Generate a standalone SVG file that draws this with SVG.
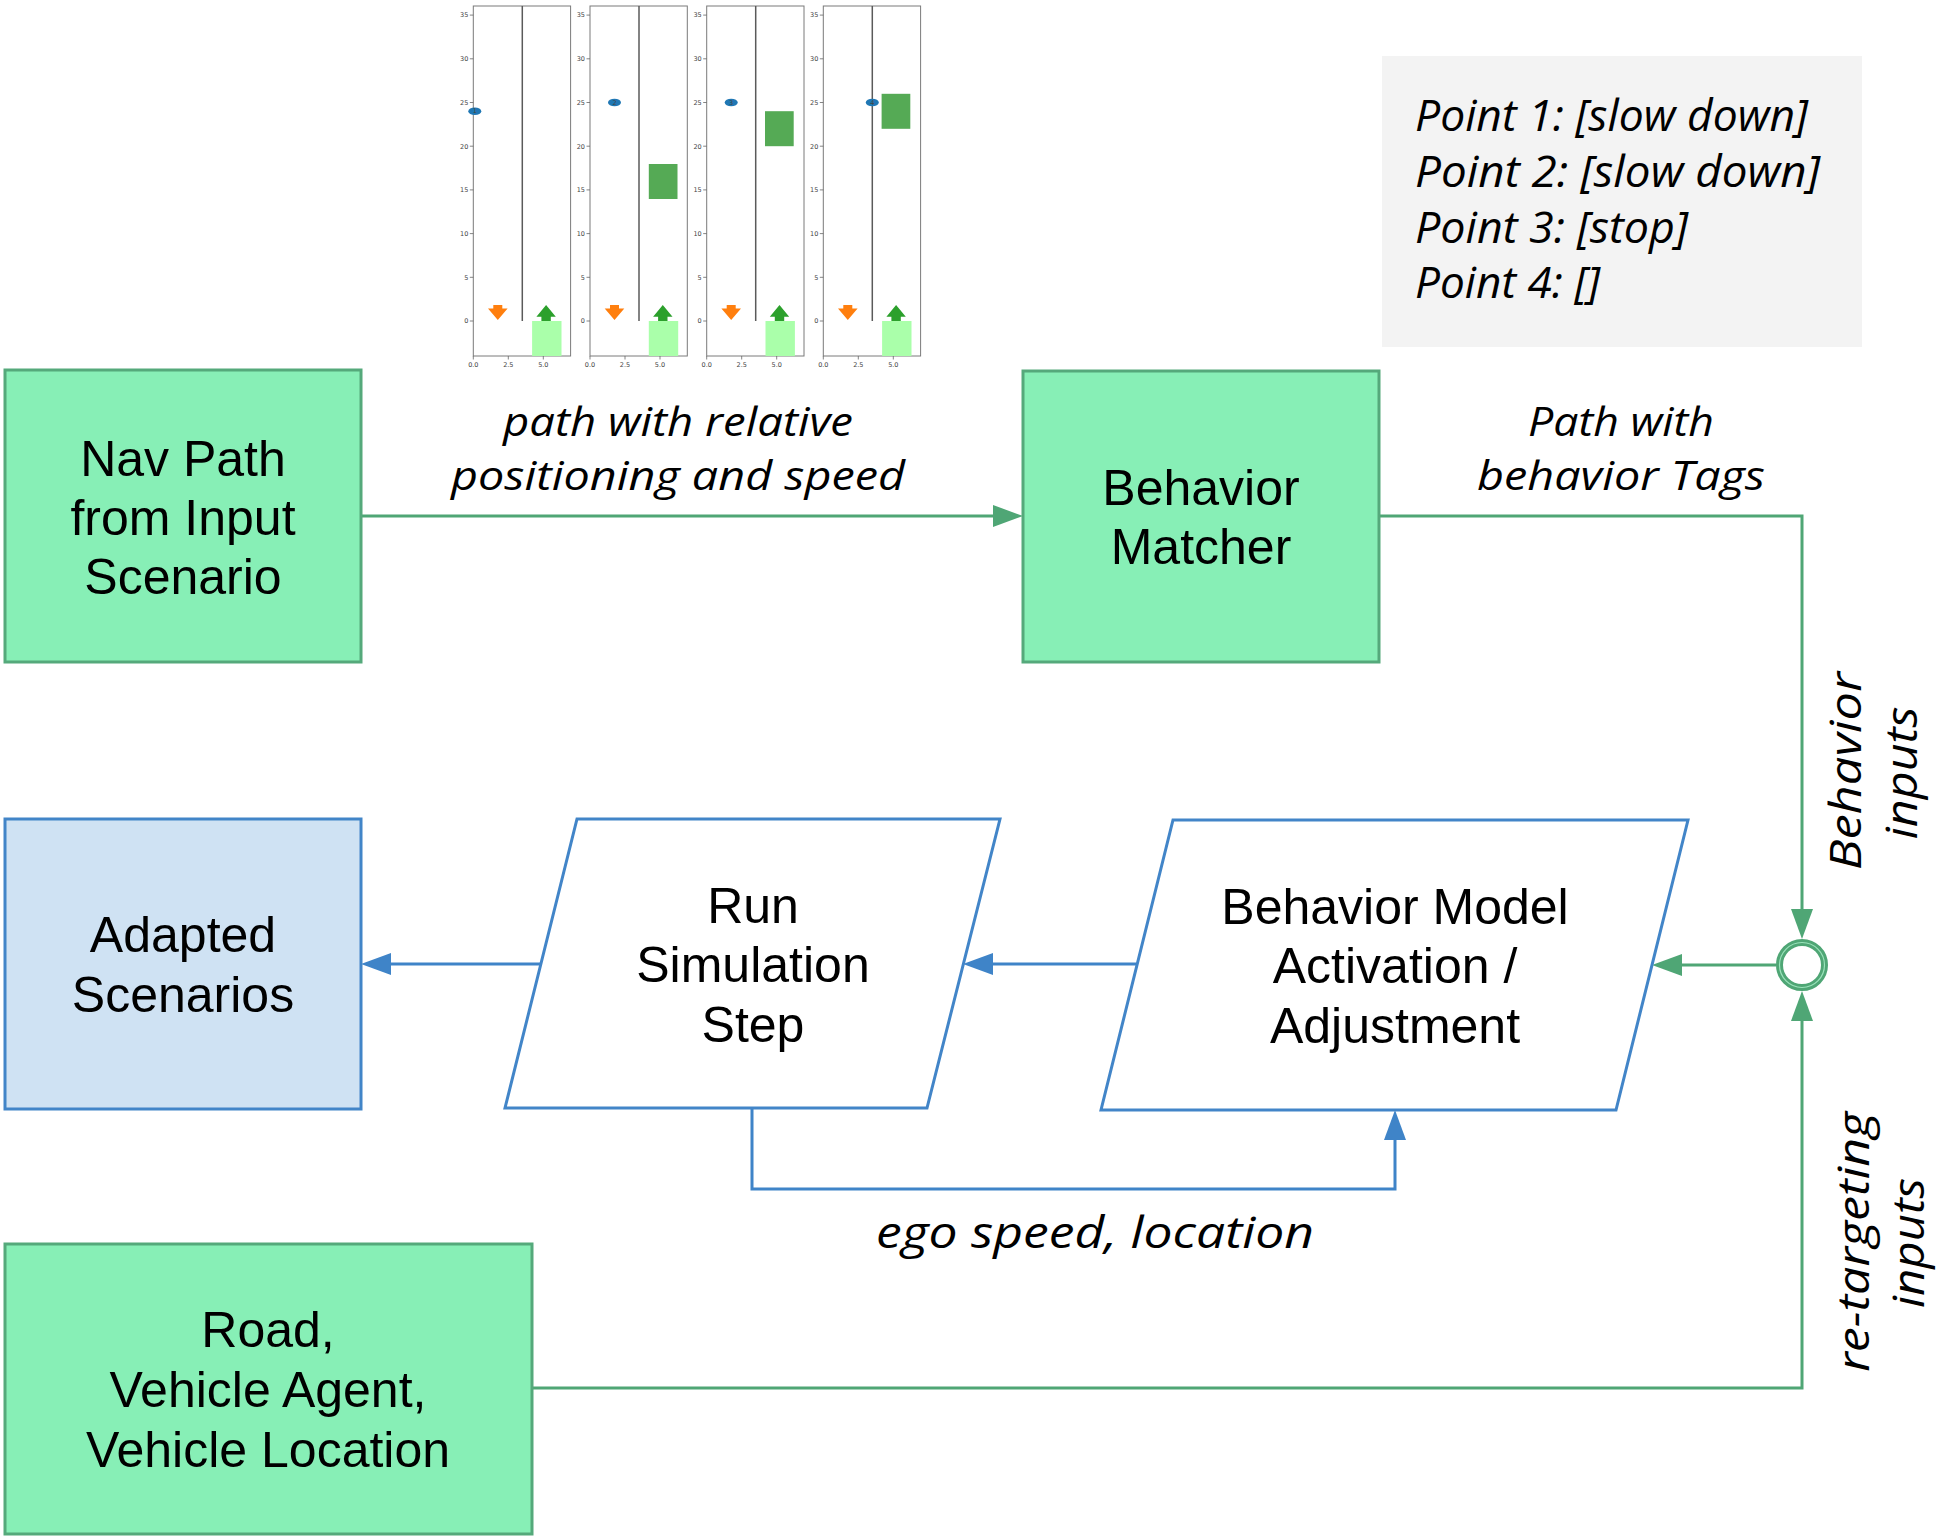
<svg xmlns="http://www.w3.org/2000/svg" xmlns:xlink="http://www.w3.org/1999/xlink" width="1943" height="1540" viewBox="0 0 1943 1540">
<style>
.ng{fill:#87efb6;stroke:#55a97b;stroke-width:3}
.nb{fill:#cfe2f3;stroke:#4285c8;stroke-width:3}
.np{fill:#ffffff;stroke:#4285c8;stroke-width:3}
.t{font-family:"Liberation Sans",Arial,sans-serif;font-size:50px;text-anchor:middle;fill:#000}
.l{font-family:"Open Sans","Noto Sans",sans-serif;font-style:italic;font-size:44px;text-anchor:middle;fill:#000}
.l2{font-family:"Open Sans","Noto Sans",sans-serif;font-style:italic;font-size:41px;text-anchor:middle;fill:#000}
.pt{font-family:"Open Sans","Noto Sans",sans-serif;font-style:italic;font-size:43px;fill:#000}
.cg{stroke:#4fa675;stroke-width:3;fill:none}
.cb{stroke:#3f84c8;stroke-width:3;fill:none}
.tk{font-family:"DejaVu Sans",sans-serif;font-size:6.5px;fill:#444}
.tl{stroke:#666;stroke-width:0.8}
</style>
<defs>
<marker id="ag" markerUnits="userSpaceOnUse" markerWidth="30" markerHeight="22" viewBox="0 0 30 22" refX="22" refY="11" orient="auto"><path d="M0,0 L30,11 L0,22 z" fill="#4fa675"/></marker>
<marker id="ab" markerUnits="userSpaceOnUse" markerWidth="30" markerHeight="22" viewBox="0 0 30 22" refX="22" refY="11" orient="auto"><path d="M0,0 L30,11 L0,22 z" fill="#3f84c8"/></marker>
<g id="ax">
<rect x="0" y="6" width="97.3" height="350" fill="#fff" stroke="#7a7a7a" stroke-width="1"/>
<line x1="49" y1="6" x2="49" y2="321" stroke="#5a5a5a" stroke-width="1.5"/>
<g class="tl">
<line x1="-3.5" y1="321" x2="0" y2="321"/><line x1="-3.5" y1="277.3" x2="0" y2="277.3"/><line x1="-3.5" y1="233.6" x2="0" y2="233.6"/><line x1="-3.5" y1="189.9" x2="0" y2="189.9"/><line x1="-3.5" y1="146.2" x2="0" y2="146.2"/><line x1="-3.5" y1="102.5" x2="0" y2="102.5"/><line x1="-3.5" y1="58.8" x2="0" y2="58.8"/><line x1="-3.5" y1="15.1" x2="0" y2="15.1"/>
<line x1="0" y1="356" x2="0" y2="359.5"/><line x1="35" y1="356" x2="35" y2="359.5"/><line x1="70" y1="356" x2="70" y2="359.5"/>
</g>
<g class="tk" text-anchor="end">
<text x="-5" y="323.3">0</text><text x="-5" y="279.6">5</text><text x="-5" y="235.9">10</text><text x="-5" y="192.2">15</text><text x="-5" y="148.5">20</text><text x="-5" y="104.8">25</text><text x="-5" y="61.1">30</text><text x="-5" y="17.4">35</text>
</g>
<g class="tk" text-anchor="middle">
<text x="0" y="366.5">0.0</text><text x="35" y="366.5">2.5</text><text x="70" y="366.5">5.0</text>
</g>
<rect x="58.8" y="321" width="29.4" height="35" fill="#aaffaa"/>
<polygon points="20,305 29,305 29,308.5 34.3,308.5 24.5,320 14.7,308.5 20,308.5" fill="#ff7f0e"/>
<polygon points="72.8,305 82.5,316.7 77.5,316.7 77.5,321 68.1,321 68.1,316.7 63.1,316.7" fill="#2ca02c"/>
</g>
</defs>
<rect width="1943" height="1540" fill="#fff"/>

<g id="plots">
<g transform="translate(473.3,0)">
<use xlink:href="#ax" href="#ax"/>
<ellipse cx="1.5" cy="111.2" rx="6.5" ry="3.8" fill="#1f77b4"/>
<text x="1.5" y="113.3" class="tk" text-anchor="middle" fill="#0b2a44">1</text>
</g>
<g transform="translate(590,0)">
<use xlink:href="#ax" href="#ax"/>
<rect x="58.8" y="164" width="28.7" height="35" fill="#55aa55"/>
<ellipse cx="24.5" cy="102.5" rx="6.5" ry="3.8" fill="#1f77b4"/>
<text x="24.5" y="104.6" class="tk" text-anchor="middle" fill="#0b2a44">2</text>
</g>
<g transform="translate(706.7,0)">
<use xlink:href="#ax" href="#ax"/>
<rect x="58.3" y="111.2" width="28.7" height="35" fill="#55aa55"/>
<ellipse cx="24.5" cy="102.5" rx="6.5" ry="3.8" fill="#1f77b4"/>
<text x="24.5" y="104.6" class="tk" text-anchor="middle" fill="#0b2a44">3</text>
</g>
<g transform="translate(823.3,0)">
<use xlink:href="#ax" href="#ax"/>
<rect x="58.3" y="93.8" width="28.7" height="35" fill="#55aa55"/>
<ellipse cx="49" cy="102.5" rx="6.5" ry="3.8" fill="#1f77b4"/>
<text x="49" y="104.6" class="tk" text-anchor="middle" fill="#0b2a44">4</text>
</g>
</g>

<g id="tags">
<rect x="1382" y="56" width="480" height="291" fill="#f3f3f3"/>
<text class="pt"><tspan x="1415" y="131" textLength="393" lengthAdjust="spacingAndGlyphs">Point 1: [slow down]</tspan><tspan x="1415" y="187" textLength="405" lengthAdjust="spacingAndGlyphs">Point 2: [slow down]</tspan><tspan x="1415" y="243" textLength="273" lengthAdjust="spacingAndGlyphs">Point 3: [stop]</tspan><tspan x="1415" y="298" textLength="185" lengthAdjust="spacingAndGlyphs">Point 4: []</tspan></text>
</g>

<g id="connectors">
<path class="cg" d="M361,516 H1015" marker-end="url(#ag)"/>
<path class="cg" d="M1379,516 H1802 V931" marker-end="url(#ag)"/>
<path class="cg" d="M532,1388 H1802 V999" marker-end="url(#ag)"/>
<path class="cg" d="M1776,965 H1660" marker-end="url(#ag)"/>
<path class="cb" d="M1136,964 H971" marker-end="url(#ab)"/>
<path class="cb" d="M541,964 H369" marker-end="url(#ab)"/>
<path class="cb" d="M752,1108 V1189 H1395 V1118" marker-end="url(#ab)"/>
<text class="l2"><tspan x="678" y="436" textLength="350" lengthAdjust="spacingAndGlyphs">path with relative</tspan><tspan x="678" y="490" textLength="454" lengthAdjust="spacingAndGlyphs">positioning and speed</tspan></text>
<text class="l2"><tspan x="1621" y="436" textLength="186" lengthAdjust="spacingAndGlyphs">Path with</tspan><tspan x="1621" y="490" textLength="288" lengthAdjust="spacingAndGlyphs">behavior Tags</tspan></text>
<text class="l" x="1095" y="1248" textLength="438" lengthAdjust="spacingAndGlyphs">ego speed, location</text>
<text class="l" transform="translate(1861,771) rotate(-90)" textLength="198" lengthAdjust="spacingAndGlyphs">Behavior</text>
<text class="l" transform="translate(1917,773) rotate(-90)" textLength="133" lengthAdjust="spacingAndGlyphs">inputs</text>
<text class="l" transform="translate(1869,1242) rotate(-90)" textLength="260" lengthAdjust="spacingAndGlyphs">re-targeting</text>
<text class="l" transform="translate(1924,1243) rotate(-90)" textLength="130" lengthAdjust="spacingAndGlyphs">inputs</text>
</g>

<g id="junction">
<circle cx="1802" cy="965" r="22.5" fill="#fff" stroke="#4fa675" stroke-width="7"/>
<circle cx="1802" cy="965" r="22.5" fill="none" stroke="#9be3bb" stroke-width="1.2"/>
</g>

<g id="nav-path">
<rect class="ng" x="5" y="370" width="356" height="292"/>
<text class="t" x="183" y="476">Nav Path</text>
<text class="t" x="183" y="535">from Input</text>
<text class="t" x="183" y="594">Scenario</text>
</g>

<g id="behavior-matcher">
<rect class="ng" x="1023" y="371" width="356" height="291"/>
<text class="t" x="1201" y="505">Behavior</text>
<text class="t" x="1201" y="564">Matcher</text>
</g>

<g id="adapted-scenarios">
<rect class="nb" x="5" y="819" width="356" height="290"/>
<text class="t" x="183" y="952">Adapted</text>
<text class="t" x="183" y="1012">Scenarios</text>
</g>

<g id="run-simulation">
<polygon class="np" points="577,819 1000,819 927,1108 505,1108"/>
<text class="t" x="753" y="923">Run</text>
<text class="t" x="753" y="982">Simulation</text>
<text class="t" x="753" y="1042">Step</text>
</g>

<g id="behavior-model">
<polygon class="np" points="1173,820 1688,820 1616,1110 1101,1110"/>
<text class="t" x="1395" y="924">Behavior Model</text>
<text class="t" x="1395" y="983">Activation /</text>
<text class="t" x="1395" y="1043">Adjustment</text>
</g>

<g id="road">
<rect class="ng" x="5" y="1244" width="527" height="290"/>
<text class="t" x="268" y="1347">Road,</text>
<text class="t" x="268" y="1407">Vehicle Agent,</text>
<text class="t" x="268" y="1467">Vehicle Location</text>
</g>
</svg>
